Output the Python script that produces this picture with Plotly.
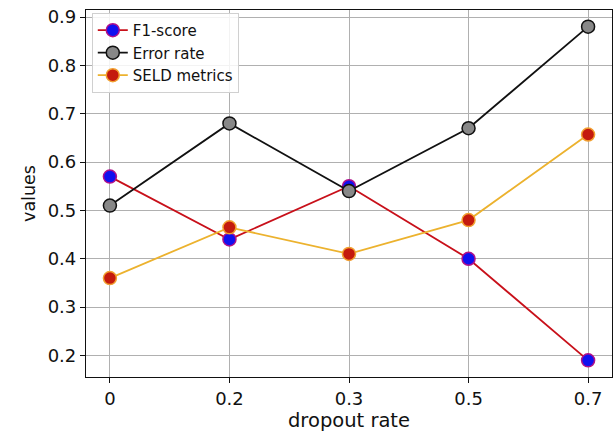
import plotly.graph_objects as go

dropout = ["0", "0.2", "0.3", "0.5", "0.7"]
f1_score = [0.57, 0.44, 0.55, 0.40, 0.19]
error_rate = [0.51, 0.68, 0.54, 0.67, 0.88]
seld_metrics = [0.36, 0.465, 0.41, 0.48, 0.657]
y_ticks = [0.2, 0.3, 0.4, 0.5, 0.6, 0.7, 0.8, 0.9]

FONT = "DejaVu Sans"

fig = go.Figure()
fig.add_trace(go.Scatter(
    x=dropout, y=f1_score, mode="lines+markers", name="F1-score",
    line=dict(color="#c8101a", width=1.8),
    marker=dict(size=13, color="#1010f0", line=dict(color="#b0108a", width=1.5)),
))
fig.add_trace(go.Scatter(
    x=dropout, y=error_rate, mode="lines+markers", name="Error rate",
    line=dict(color="#111111", width=1.8),
    marker=dict(size=13, color="#888888", line=dict(color="#111111", width=1.5)),
))
fig.add_trace(go.Scatter(
    x=dropout, y=seld_metrics, mode="lines+markers", name="SELD metrics",
    line=dict(color="#ecb22e", width=1.8),
    marker=dict(size=13, color="#c41a0e", line=dict(color="#f2a030", width=1.5)),
))

fig.update_layout(
    width=615, height=432,
    margin=dict(l=86, r=3, t=10, b=55, autoexpand=False),
    paper_bgcolor="white", plot_bgcolor="white",
    font=dict(family=FONT, color="#111111"),
    showlegend=True,
    legend=dict(
        x=0.011, y=0.992, xanchor="left", yanchor="top",
        bgcolor="rgba(255,255,255,0.85)", bordercolor="#d0d0d0", borderwidth=1,
        font=dict(family=FONT, size=15, color="#111111"),
        itemwidth=30, tracegroupgap=0,
    ),
)
fig.update_xaxes(
    type="category", range=[-0.2, 4.2],
    showgrid=True, gridcolor="#b0b0b0", gridwidth=1,
    showline=True, linecolor="#111111", linewidth=1.2, mirror=True,
    ticks="outside", ticklen=5, tickcolor="#111111",
    tickfont=dict(family=FONT, size=18),
    title=dict(text="dropout rate", font=dict(family=FONT, size=19.5), standoff=6),
    zeroline=False, automargin=False,
)
fig.update_yaxes(
    range=[0.1555, 0.9145], tickvals=y_ticks,
    ticktext=[f"{v:.1f}" for v in y_ticks],
    showgrid=True, gridcolor="#b0b0b0", gridwidth=1,
    showline=True, linecolor="#111111", linewidth=1.2, mirror=True,
    ticks="outside", ticklen=5, tickcolor="#111111",
    tickfont=dict(family=FONT, size=18),
    title=dict(text="values", font=dict(family=FONT, size=17.5), standoff=7),
    zeroline=False, automargin=False,
)

fig.write_html(
    "out.html",
    config={"displayModeBar": False},
    post_script="document.body.style.margin='0';",
)
